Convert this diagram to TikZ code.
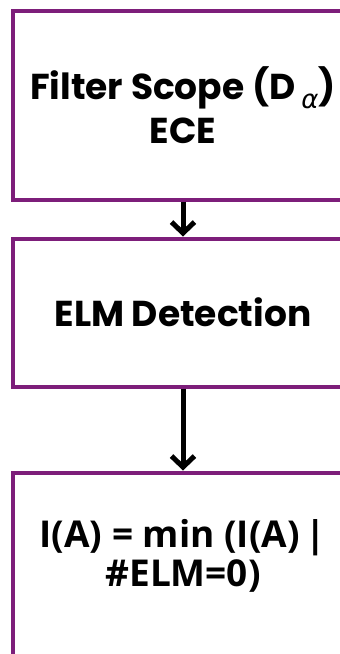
\documentclass[tikz,border=0pt]{standalone}
\usepackage{amsmath}
\usepackage{fontspec}
\setmainfont{Poppins}
\newfontfamily\condfont{Open Sans}
\newfontfamily\greekfont{DejaVu Sans}
\usetikzlibrary{positioning,arrows.meta}
\definecolor{boxpurple}{RGB}{125,30,122}

\begin{document}
\begin{tikzpicture}[
    stage/.style={draw=boxpurple, line width=4pt, minimum width=340pt,
      align=center, font=\bfseries\fontsize{36}{44}\selectfont},
    flow/.style={line width=5pt, -{Straight Barb[length=11pt,width=23pt]}}]
  \useasboundingbox (0,0) rectangle (340pt,-654pt);
  \clip (0,0) rectangle (340pt,-654pt);
  % three stages, the boxes run past the right edge
  \node[stage, minimum height=189pt] (scope) at (183pt,-105pt)
    {Filter Scope (D\,\raisebox{-9pt}{\greekfont\itshape\mdseries\fontsize{26}{26}\selectfont α})\\ECE};
  \node[stage, minimum height=148pt, below=35pt of scope] (detect) {ELM Detection};
  \node[stage, minimum height=190pt, below=82pt of detect, text depth=30pt,
    font=\condfont\bfseries\fontsize{37}{39}\selectfont] (ia)
    {I(A) = min (I(A)\,|\\\#ELM=0)};
  \draw[flow] (scope) -- (detect);
  \draw[flow] (detect) -- (ia);
\end{tikzpicture}
\end{document}
